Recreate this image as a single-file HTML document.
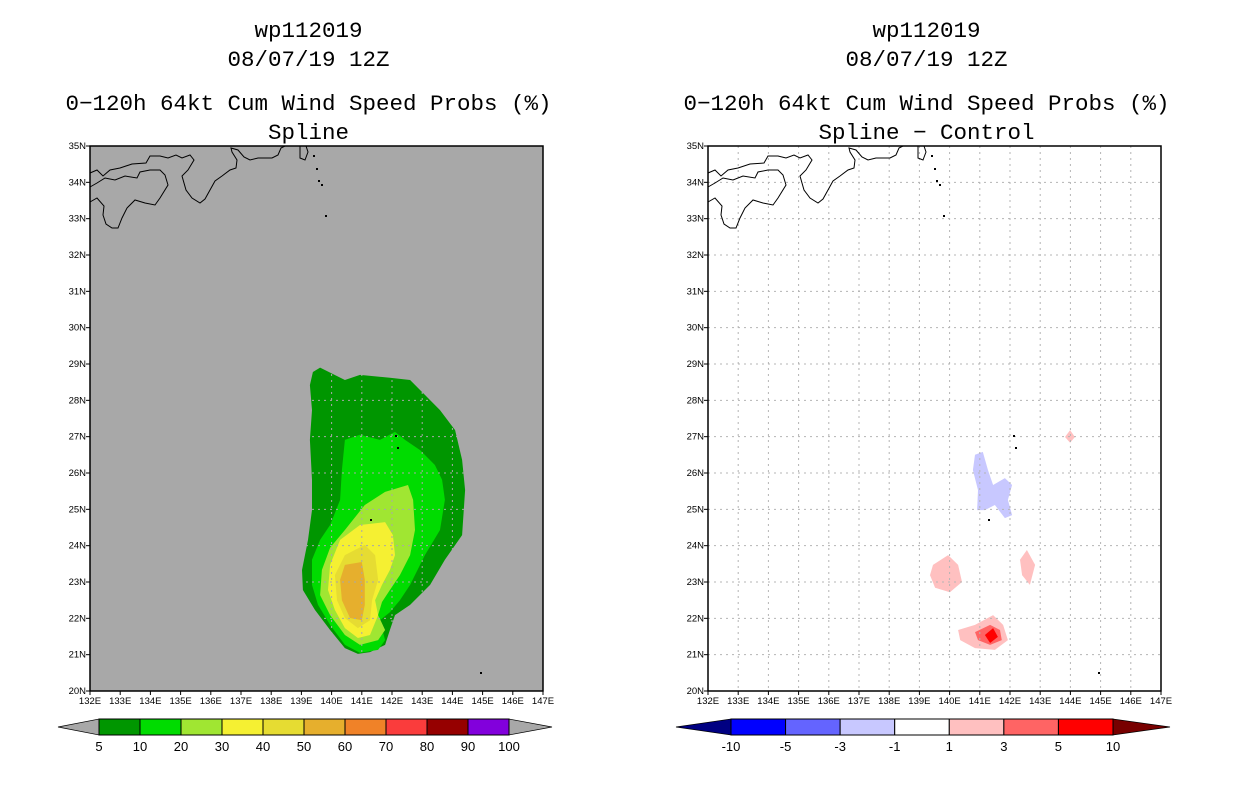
<!DOCTYPE html>
<html><head><meta charset="utf-8"><style>
body{margin:0;background:#fff;}
svg{display:block;font-family:"Liberation Sans",sans-serif;}
.ttl{font-family:"Liberation Mono",monospace;}
</style></head><body>
<svg id="s" width="1236" height="800" viewBox="0 0 1236 800"></svg>
<script>
// ---- data ----
const lonTicks=[132,133,134,135,136,137,138,139,140,141,142,143,144,145,146,147];
const latTicks=[20,21,22,23,24,25,26,27,28,29,30,31,32,33,34,35];
const leftLevels=["5","10","20","30","40","50","60","70","80","90","100"];
const leftColors=["#009600","#00dc00","#a0e632","#f5f032","#e6dc32","#e6af2d","#f08228","#fa3c3c","#960000","#8200dc"];
const rightLevels=["-10","-5","-3","-1","1","3","5","10"];
const rightColors=["#0000ff","#6464ff","#c8c8ff","#ffffff","#ffc0c0","#ff6464","#ff0000"];
const c5=[[139.38,28.78],[139.62,28.9],[140.44,28.56],[140.94,28.7],[141.93,28.62],[142.6,28.56],[143.09,28.15],[143.59,27.73],[144.09,27.18],[144.32,26.36],[144.42,25.53],[144.32,24.29],[143.75,23.61],[143.26,22.92],[142.6,22.37],[142.1,22.09],[141.93,21.68],[141.77,21.27],[141.27,21.07],[140.87,21.02],[140.44,21.18],[139.95,21.68],[139.45,22.23],[139.05,22.78],[139.02,23.33],[139.22,24.16],[139.35,24.98],[139.35,25.81],[139.28,26.91],[139.35,27.73],[139.28,28.42]];
const c10=[[140.44,26.91],[140.94,27.05],[141.6,26.91],[142.1,27.13],[142.43,26.91],[142.93,26.63],[143.42,26.22],[143.66,25.81],[143.75,25.26],[143.59,24.43],[143.09,23.74],[142.6,22.92],[142.26,22.5],[141.93,22.17],[141.6,21.95],[141.77,21.4],[141.54,21.13],[140.94,21.05],[140.44,21.27],[139.95,21.82],[139.55,22.37],[139.35,22.92],[139.35,23.61],[139.62,24.16],[139.95,24.57],[140.28,25.26],[140.34,26.08]];
const c20=[[141.1,25.12],[141.77,25.48],[142.53,25.67],[142.7,25.26],[142.76,24.43],[142.6,23.74],[142.26,23.19],[141.93,22.78],[141.67,22.45],[141.54,22.09],[141.77,21.68],[141.54,21.4],[140.94,21.27],[140.44,21.54],[139.95,22.09],[139.62,22.64],[139.68,23.33],[139.95,23.94],[140.44,24.43]];
const c30=[[140.28,24.16],[140.94,24.57],[141.77,24.65],[142.03,24.29],[142.1,23.74],[141.93,23.33],[141.67,22.92],[141.44,22.5],[141.54,22.09],[141.27,21.54],[140.87,21.46],[140.44,21.73],[140.11,22.23],[139.88,22.78],[139.95,23.47]];
const c40=[[140.44,23.74],[141.1,24.02],[141.44,23.74],[141.54,23.06],[141.34,22.5],[141.27,21.95],[140.87,21.73],[140.44,22.01],[140.18,22.5],[140.11,23.19]];
const c50=[[140.44,23.47],[141.0,23.55],[141.1,23.06],[141.1,22.37],[141.0,21.95],[140.61,22.01],[140.34,22.5],[140.28,23.06]];
const dNeg1=[[140.84,26.5],[141.1,26.58],[141.27,26.08],[141.44,25.67],[141.83,25.86],[142.07,25.67],[141.93,25.26],[142.07,24.84],[141.83,24.76],[141.5,25.12],[141.17,24.98],[140.91,24.98],[140.94,25.53],[140.77,26.08]];
const dPosA=[[139.45,23.47],[139.95,23.74],[140.28,23.47],[140.41,23.0],[140.01,22.72],[139.52,22.84],[139.35,23.19]];
const dPosB=[[142.56,23.88],[142.83,23.47],[142.66,22.92],[142.4,23.19],[142.33,23.61]];
const dPosC=[[143.99,27.18],[144.15,26.99],[143.99,26.83],[143.82,26.99]];
const dPosD=[[140.28,21.68],[140.84,21.82],[141.44,22.09],[141.77,21.82],[141.93,21.4],[141.5,21.13],[140.84,21.18],[140.35,21.4]];
const dPos3=[[140.84,21.62],[141.34,21.82],[141.67,21.68],[141.73,21.4],[141.34,21.27],[140.94,21.4]];
const dPos5=[[141.17,21.54],[141.44,21.73],[141.6,21.49],[141.34,21.32]];

const NS="http://www.w3.org/2000/svg";
const svg=document.getElementById('s');
function mk(tag,attrs,parent){const e=document.createElementNS(NS,tag);for(const k in attrs)e.setAttribute(k,attrs[k]);(parent||svg).appendChild(e);return e;}
function txt(x,y,s,size,anchor,parent){const t=mk('text',{x:x,y:y,'font-size':size,'text-anchor':anchor||'middle',fill:'#000'},parent);t.textContent=s;return t;}
function ttl(x,y,s,parent){const t=txt(x,y,s,22.5,'middle',parent);t.setAttribute('class','ttl');return t;}

function panel(x0,title2,bg,name){
  const g=mk('g',{});
  
  
  const W=453,H=545,y0=146;
  const X=lon=>x0+(lon-132)/15*W;
  const Y=lat=>y0+H-(lat-20)/15*H;
  const cx=x0+W/2-8;
  let t;
  t=ttl(cx,37,'wp112019',g);
  t=ttl(cx,66,'08/07/19 12Z',g);
  t=ttl(cx,110,'0\u2212120h 64kt Cum Wind Speed Probs (%)',g);
  t=ttl(cx,139,title2,g);
  const bgr=mk('rect',{x:x0,y:y0,width:W,height:H,fill:bg},g);
  
  
  return {g,X,Y,W,H,y0};
}
function poly(p,pts,fill,name){
  const e=mk('polygon',{points:pts.map(q=>p.X(q[0]).toFixed(1)+','+p.Y(q[1]).toFixed(1)).join(' '),fill:fill},p.g);
  
  
}
function finish(p,x0,gridColor){
  const gg=mk('g',{stroke:gridColor,'stroke-width':1,'stroke-dasharray':'2,4'},p.g);
  
  
  lonTicks.slice(1,-1).forEach(l=>mk('line',{x1:p.X(l),x2:p.X(l),y1:p.y0,y2:p.y0+p.H},gg));
  latTicks.slice(1,-1).forEach(l=>mk('line',{x1:x0,x2:x0+p.W,y1:p.Y(l),y2:p.Y(l)},gg));
  const o=x0-90;
  const coast=[
   "M90 187 L97 183 L105 178 L115 180 L125 176 L137 178 L140 172 L150 170 L160 170 L165 175 L168 185 L160 198 L155 205 L145 203 L135 200 L127 208 L122 218 L118 228 L112 228 L106 224 L103 215 L104 206 L97 198 L90 202",
   "M90 173 L97 170 L103 176 L110 170 L120 168 L132 164 L146 163 L150 156 L160 156 L168 158 L176 155 L182 158 L190 155 L194 160 L188 170 L182 176 L186 190 L192 198 L200 203 L205 199 L210 190 L215 181 L222 176 L230 170 L236 168 L237 160 L232 152 L231 148 L238 150 L244 157 L250 160 L258 158 L272 158 L278 155 L281 148 L285 146",
   "M300 146 L300 158 L305 160 L308 152 L306 146"];
  coast.forEach(d=>{const c=mk('path',{d:d,fill:'none',stroke:'#000','stroke-width':1,transform:'translate('+o+',0)'},p.g);
    
    });
  [[313,155],[316,168],[318,180],[321,184],[325,215],[480,672],[397,447],[395,435],[370,519]].forEach(d=>{
    const c=mk('rect',{x:d[0]+o,y:d[1],width:2,height:2,fill:'#000'},p.g);
    
    });
  const fr=mk('rect',{x:x0,y:p.y0,width:p.W,height:p.H,fill:'none',stroke:'#000','stroke-width':1.5},p.g);
  
  
  lonTicks.forEach(l=>{
    mk('line',{x1:p.X(l),x2:p.X(l),y1:691,y2:695,stroke:'#000'},p.g);
    const t=txt(p.X(l),704,l+'E',9.5,'middle',p.g);
    
    });
  latTicks.forEach(l=>{
    mk('line',{x1:x0-4,x2:x0,y1:p.Y(l),y2:p.Y(l),stroke:'#000'},p.g);
    const t=txt(x0-4,p.Y(l)+3,l+'N',9.5,'end',p.g);
    
    });
}
function colorbar(x1,x2,left,right,levels,colors,lc,rc,name){
  const g=mk('g',{});
  
  
  const n=colors.length,w=(x2-x1)/n,y=719,h=16;
  mk('polygon',{points:(x1)+','+y+' '+(x1)+','+(y+h)+' '+left+','+(y+h/2),fill:lc,stroke:'#000','stroke-width':0.7},g);
  mk('polygon',{points:(x2)+','+y+' '+(x2)+','+(y+h)+' '+right+','+(y+h/2),fill:rc,stroke:'#000','stroke-width':0.7},g);
  colors.forEach((c,i)=>{const r=mk('rect',{x:x1+i*w,y:y,width:w,height:h,fill:c,stroke:'#000','stroke-width':1},g);
    
    });
  levels.forEach((l,i)=>{const t=txt(x1+i*w,751,l,13,'middle',g);
    
    });
}
const L=panel(90,'Spline','#a8a8a8','panel-spline');
[c5,c10,c20,c30,c40,c50].forEach((c,i)=>poly(L,c,leftColors[i],'contour-'+leftLevels[i]));
finish(L,90,'#a8a8a8');
colorbar(99,509,58,552,leftLevels,leftColors,'#a8a8a8','#a8a8a8','colorbar-spline');
const R=panel(708,'Spline \u2212 Control','#ffffff','panel-difference');
poly(R,dNeg1,rightColors[2],'diff-neg-1');
[dPosA,dPosB,dPosC,dPosD].forEach(c=>poly(R,c,rightColors[4],'diff-pos-1'));
poly(R,dPos3,rightColors[5],'diff-pos-3');
poly(R,dPos5,rightColors[6],'diff-pos-5');
finish(R,708,'#b4b4b4');
colorbar(731,1113,676,1170,rightLevels,rightColors,'#000082','#780000','colorbar-difference');
</script>
</body></html>
